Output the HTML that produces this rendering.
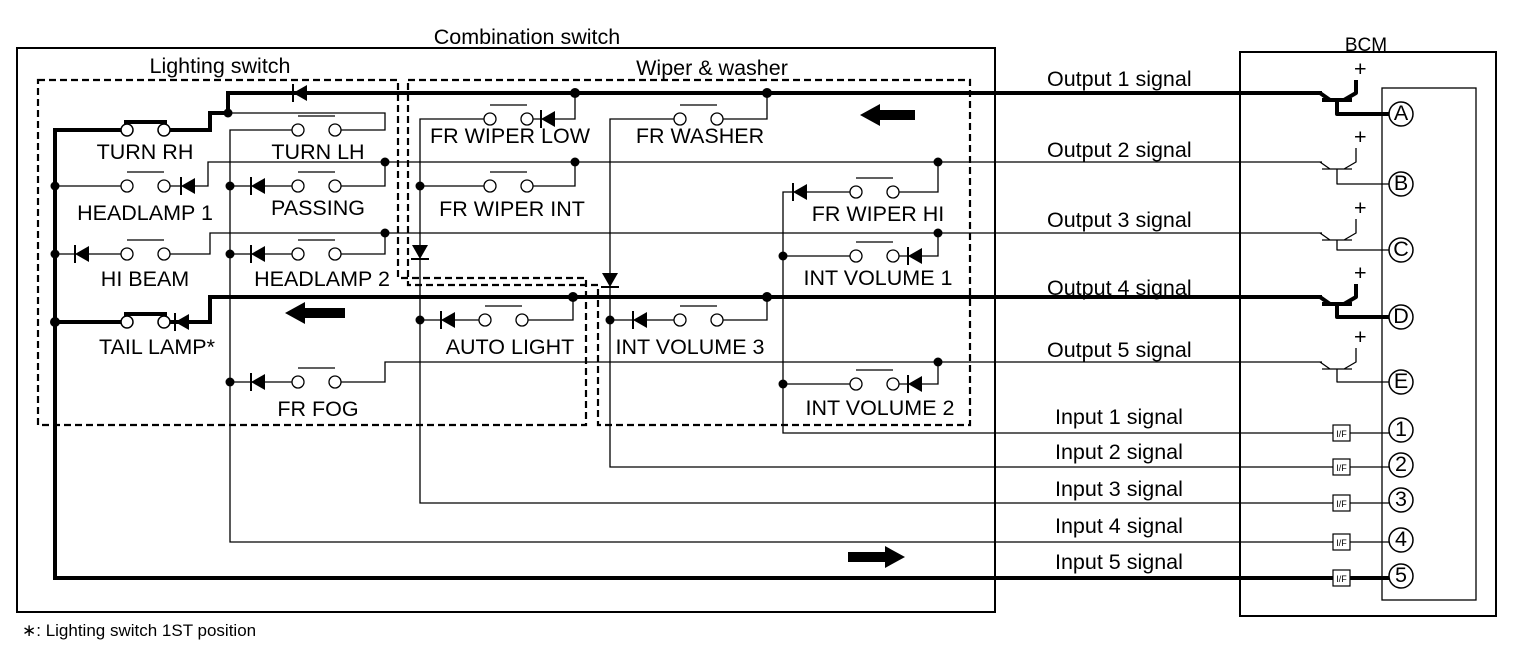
<!DOCTYPE html>
<html><head><meta charset="utf-8"><style>
html,body{margin:0;padding:0;background:#fff}
svg{display:block}
text{font-family:"Liberation Sans",Arial,sans-serif;font-size:21.5px;fill:#000}
</style></head><body>
<svg width="1513" height="670" viewBox="0 0 1513 670" xmlns="http://www.w3.org/2000/svg">
<defs>
<g id="dl"><path d="M-7,0 L7,-8 L7,8Z" fill="#000"/><line x1="-7" y1="-9" x2="-7" y2="9" stroke="#000" stroke-width="2"/></g>
<g id="sw" fill="#fff" stroke="#000" stroke-width="1.3"><circle cx="0" cy="0" r="6"/><circle cx="37" cy="0" r="6"/><line x1="0" y1="-14" x2="37" y2="-14"/></g>
<g id="swt" fill="#fff" stroke="#000"><line x1="-3" y1="-8" x2="40" y2="-8" stroke-width="4"/><circle cx="0" cy="0" r="6" stroke-width="1.5"/><circle cx="37" cy="0" r="6" stroke-width="1.5"/></g>
<g id="ifb"><rect x="0" y="-8" width="17" height="16" fill="#fff" stroke="#000" stroke-width="1.2"/><text x="8.5" y="4" text-anchor="middle" style="font-size:9px">I/F</text></g>
</defs>

<rect x="17" y="48" width="978" height="564" fill="none" stroke="#000" stroke-width="2"/>
<rect x="1240" y="52" width="256" height="564" fill="none" stroke="#000" stroke-width="2"/>
<rect x="1382" y="88" width="94" height="512" fill="none" stroke="#000" stroke-width="1.3"/>
<text x="527" y="44" text-anchor="middle">Combination switch</text>
<text x="1366" y="51" text-anchor="middle" style="font-size:19px">BCM</text>
<text x="220" y="73" text-anchor="middle">Lighting switch</text>
<text x="712" y="75" text-anchor="middle">Wiper &amp; washer</text>

<g fill="none" stroke="#000" stroke-width="2.2" stroke-dasharray="7,4">
<path d="M38,80 H398 V278 H586 V425 H38 Z"/>
<path d="M408,80 H970 V425 H598 V285 H408 Z"/>
</g>

<g fill="none" stroke="#000" stroke-width="4">
<path d="M1322,93 H228 V113 H210 V130 H163"/>
<path d="M127,130 H55 V578 H1333"/>
<path d="M1350,578 H1389"/>
<path d="M55,322 H127"/>
<path d="M163,322 H210 V297 H1322"/>
</g>

<g fill="none" stroke="#000" stroke-width="1.3">
<path d="M228,113 H385 V130 H335"/>
<path d="M298,130 H230 V542 H1333"/>
<path d="M55,186 H127"/><path d="M163,186 H208 V162 H1322"/>
<path d="M230,186 H298"/><path d="M335,186 H385 V162"/>
<path d="M55,254 H127"/><path d="M163,254 H210 V233 H1322"/>
<path d="M230,254 H298"/><path d="M335,254 H385 V233"/>
<path d="M230,382 H298"/><path d="M335,382 H385 V362 H1322"/>
<path d="M490,119 H420 V503 H1333"/><path d="M528,119 H575 V93"/>
<path d="M420,186 H490"/><path d="M528,186 H575 V162"/>
<path d="M680,119 H610 V467 H1333"/><path d="M718,119 H767 V93"/>
<path d="M856,192 H783 V433 H1333"/><path d="M893,192 H938 V162"/>
<path d="M783,256 H856"/><path d="M893,256 H938 V233"/>
<path d="M420,320 H485"/><path d="M522,320 H573 V297"/>
<path d="M610,320 H680"/><path d="M718,320 H767 V297"/>
<path d="M783,384 H856"/><path d="M893,384 H938 V362"/>
<path d="M1350,433 H1389"/><path d="M1350,467 H1389"/><path d="M1350,503 H1389"/><path d="M1350,542 H1389"/>
</g>

<use href="#swt" x="127" y="130"/>
<use href="#swt" x="127" y="322"/>
<use href="#sw" x="298" y="130"/>
<use href="#sw" x="127" y="186"/>
<use href="#sw" x="298" y="186"/>
<use href="#sw" x="127" y="254"/>
<use href="#sw" x="298" y="254"/>
<use href="#sw" x="298" y="382"/>
<use href="#sw" x="490" y="119"/>
<use href="#sw" x="490" y="186"/>
<use href="#sw" x="680" y="119"/>
<use href="#sw" x="856" y="192"/>
<use href="#sw" x="856" y="256"/>
<use href="#sw" x="485" y="320"/>
<use href="#sw" x="680" y="320"/>
<use href="#sw" x="856" y="384"/>

<use href="#dl" x="300" y="93"/>
<use href="#dl" x="182" y="322"/>
<use href="#dl" x="188" y="186"/>
<use href="#dl" x="258" y="186"/>
<use href="#dl" x="82" y="254"/>
<use href="#dl" x="258" y="254"/>
<use href="#dl" x="258" y="382"/>
<use href="#dl" x="548" y="119"/>
<use href="#dl" x="800" y="192"/>
<use href="#dl" x="915" y="256"/>
<use href="#dl" x="448" y="320"/>
<use href="#dl" x="640" y="320"/>
<use href="#dl" x="915" y="384"/>
<use href="#dl" transform="translate(420,252) rotate(-90)"/>
<use href="#dl" transform="translate(610,280) rotate(-90)"/>

<g fill="#000">
<circle cx="228" cy="113" r="4.5"/><circle cx="55" cy="186" r="4.5"/><circle cx="55" cy="254" r="4.5"/><circle cx="55" cy="322" r="5"/>
<circle cx="230" cy="186" r="4.5"/><circle cx="230" cy="254" r="4.5"/><circle cx="230" cy="382" r="4.5"/>
<circle cx="385" cy="162" r="4.5"/><circle cx="385" cy="233" r="4.5"/>
<circle cx="575" cy="93" r="5"/><circle cx="767" cy="93" r="5"/><circle cx="575" cy="162" r="4.5"/>
<circle cx="420" cy="186" r="4.5"/><circle cx="938" cy="162" r="4.5"/><circle cx="938" cy="233" r="4.5"/>
<circle cx="783" cy="256" r="4.5"/><circle cx="573" cy="297" r="5"/><circle cx="767" cy="297" r="5"/>
<circle cx="420" cy="320" r="4.5"/><circle cx="610" cy="320" r="4.5"/><circle cx="938" cy="362" r="4.5"/><circle cx="783" cy="384" r="4.5"/>
</g>

<path d="M860,115 L880,104 V110 H915 V120 H880 V126 Z" fill="#000"/>
<path d="M285,313 L305,302 V308 H345 V318 H305 V324 Z" fill="#000"/>
<path d="M905,557 L885,546 V552 H848 V562 H885 V568 Z" fill="#000"/>

<g text-anchor="middle">
<text x="145" y="159">TURN RH</text>
<text x="318" y="159">TURN LH</text>
<text x="145" y="220">HEADLAMP 1</text>
<text x="318" y="215">PASSING</text>
<text x="145" y="286">HI BEAM</text>
<text x="322" y="286">HEADLAMP 2</text>
<text x="157" y="354">TAIL LAMP*</text>
<text x="318" y="416">FR FOG</text>
<text x="510" y="143">FR WIPER LOW</text>
<text x="700" y="143">FR WASHER</text>
<text x="512" y="216">FR WIPER INT</text>
<text x="878" y="221">FR WIPER HI</text>
<text x="878" y="285">INT VOLUME 1</text>
<text x="510" y="354">AUTO LIGHT</text>
<text x="690" y="354">INT VOLUME 3</text>
<text x="880" y="415">INT VOLUME 2</text>
</g>

<text x="1047" y="86">Output 1 signal</text>
<text x="1047" y="157">Output 2 signal</text>
<text x="1047" y="227">Output 3 signal</text>
<text x="1047" y="295">Output 4 signal</text>
<text x="1047" y="357">Output 5 signal</text>
<text x="1055" y="424">Input 1 signal</text>
<text x="1055" y="459">Input 2 signal</text>
<text x="1055" y="496">Input 3 signal</text>
<text x="1055" y="533">Input 4 signal</text>
<text x="1055" y="569">Input 5 signal</text>
<text x="22" y="636" style="font-size:17px">∗: Lighting switch 1ST position</text>

<g fill="none" stroke="#000" stroke-linejoin="round">
<g stroke-width="4">
<path d="M1320,93 L1330,100 M1322,100 H1352 M1344,100 L1356,93 V80"/>
<path d="M1337,100 V114 H1389"/>
<path d="M1320,297 L1330,304 M1322,304 H1352 M1344,304 L1356,297 V284"/>
<path d="M1337,304 V317 H1389"/>
</g>
<g stroke-width="1.3">
<path d="M1320,162 L1330,169 M1322,169 H1352 M1344,169 L1356,162 V148 M1337,169 V184 H1389"/>
<path d="M1320,233 L1330,240 M1322,240 H1352 M1344,240 L1356,233 V219 M1337,240 V250 H1389"/>
<path d="M1320,362 L1330,369 M1322,369 H1352 M1344,369 L1356,362 V348 M1337,369 V382 H1389"/>
</g>
</g>
<g style="font-size:12px"><text x="1354" y="76">+</text><text x="1354" y="144">+</text><text x="1354" y="215">+</text><text x="1354" y="280">+</text><text x="1354" y="344">+</text></g>

<use href="#ifb" x="1333" y="433"/><use href="#ifb" x="1333" y="467"/><use href="#ifb" x="1333" y="503"/><use href="#ifb" x="1333" y="542"/><use href="#ifb" x="1333" y="578"/>

<g fill="#fff" stroke="#000" stroke-width="1.5">
<circle cx="1401" cy="114" r="12"/><circle cx="1401" cy="184" r="12"/><circle cx="1401" cy="250" r="12"/><circle cx="1401" cy="317" r="12"/><circle cx="1401" cy="382" r="12"/>
<circle cx="1401" cy="430" r="12"/><circle cx="1401" cy="465" r="12"/><circle cx="1401" cy="500" r="12"/><circle cx="1401" cy="540" r="12"/><circle cx="1401" cy="576" r="12"/>
</g>
<g text-anchor="middle" style="font-size:18px">
<text x="1401" y="120">A</text><text x="1401" y="190">B</text><text x="1401" y="256">C</text><text x="1401" y="323">D</text><text x="1401" y="388">E</text>
<text x="1401" y="436">1</text><text x="1401" y="471">2</text><text x="1401" y="506">3</text><text x="1401" y="546">4</text><text x="1401" y="582">5</text>
</g>
</svg>
</body></html>
